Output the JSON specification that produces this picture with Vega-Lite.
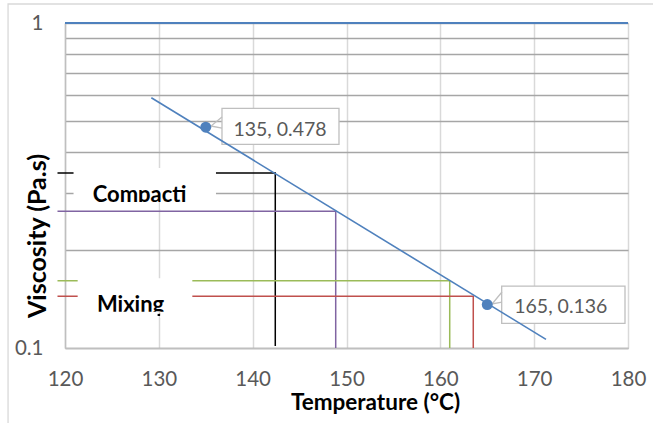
{
  "$schema": "https://vega.github.io/schema/vega-lite/v6.json",
  "width": 563,
  "height": 325,
  "autosize": {"type": "none"},
  "padding": {"left": 65, "top": 23, "right": 25, "bottom": 75},
  "background": "white",
  "config": {"view": {"stroke": null}, "font": "Lato"},
  "datasets": {
    "border": [{"x": 113.93, "x2": 195, "y": 1.144, "y2": 0.01}],
    "guides": [
      {"s": "black", "o": 1, "x": 119.2, "y": 0.3455},
      {"s": "black", "o": 2, "x": 142.41, "y": 0.3455},
      {"s": "black", "o": 3, "x": 142.41, "y": 0.1014},
      {"s": "purple", "o": 1, "x": 119.2, "y": 0.2634},
      {"s": "purple", "o": 2, "x": 148.85, "y": 0.2634},
      {"s": "purple", "o": 3, "x": 148.85, "y": 0.1},
      {"s": "green", "o": 1, "x": 119.2, "y": 0.1611},
      {"s": "green", "o": 2, "x": 161.0, "y": 0.1611},
      {"s": "green", "o": 3, "x": 161.0, "y": 0.1},
      {"s": "red", "o": 1, "x": 119.2, "y": 0.1443},
      {"s": "red", "o": 2, "x": 163.51, "y": 0.1443},
      {"s": "red", "o": 3, "x": 163.51, "y": 0.1}
    ],
    "toprule": [{"x": 120, "x2": 180, "y": 1}],
    "annoBoxes": [
      {"x": 120.91, "x2": 136.09, "y": 0.3579, "y2": 0.2813},
      {"x": 121.35, "x2": 133.57, "y": 0.1639, "y2": 0.1293}
    ],
    "annoText": [
      {"x": 122.95, "y": 0.2813, "t": "Compacti"},
      {"x": 123.4, "y": 0.1295, "t": "Mixing"}
    ],
    "covers": [
      {"x": 122.66, "x2": 129.87, "y": 0.2813, "y2": 0.2678},
      {"x": 130.14, "x2": 133.6, "y": 0.2813, "y2": 0.2678},
      {"x": 122.88, "x2": 129.87, "y": 0.1293, "y2": 0.1237},
      {"x": 130.14, "x2": 131.5, "y": 0.1293, "y2": 0.1237}
    ],
    "labelBoxes": [
      {"x": 136.73, "x2": 149.2, "y": 0.5465, "y2": 0.4232},
      {"x": 166.54, "x2": 179.68, "y": 0.1551, "y2": 0.1191}
    ],
    "pointers": [
      {"g": "a", "o": 1, "x": 136.73, "y": 0.5139},
      {"g": "a", "o": 2, "x": 135.56, "y": 0.482},
      {"g": "a", "o": 3, "x": 136.73, "y": 0.4752},
      {"g": "b", "o": 1, "x": 166.57, "y": 0.1487},
      {"g": "b", "o": 2, "x": 165.51, "y": 0.1366},
      {"g": "b", "o": 3, "x": 166.57, "y": 0.1385}
    ],
    "trend": [
      {"x": 129.2, "y": 0.589},
      {"x": 171.26, "y": 0.1063}
    ],
    "points": [
      {"x": 135, "y": 0.478},
      {"x": 165, "y": 0.136}
    ],
    "labels": [
      {"x": 142.91, "y": 0.449, "t": "135, 0.478"},
      {"x": 172.84, "y": 0.1279, "t": "165, 0.136"}
    ]
  },
  "encoding": {
    "x": {
      "field": "x",
      "type": "quantitative",
      "scale": {"domain": [120, 180], "nice": false, "zero": false},
      "axis": {
        "title": "Temperature (°C)",
        "values": [120, 130, 140, 150, 160, 170, 180],
        "grid": true,
        "gridColor": "#d9d9d9",
        "gridWidth": 1.5,
        "ticks": false,
        "tickSize": 0,
        "domainColor": "#bfbfbf",
        "domainWidth": 1.5,
        "labelFont": "Lato",
        "labelFontSize": 20.5,
        "labelColor": "#595959",
        "labelBaseline": "alphabetic",
        "labelPadding": 37.5,
        "labelFlush": false,
        "labelOverlap": false,
        "titleFont": "Lato",
        "titleFontSize": 22.5,
        "titleFontWeight": "bold",
        "titleColor": "#000000",
        "titleX": 310,
        "titleY": 61.5,
        "titleBaseline": "alphabetic",
        "titleAlign": "center"
      }
    },
    "y": {
      "field": "y",
      "type": "quantitative",
      "scale": {"type": "log", "domain": [0.1, 1], "nice": false},
      "axis": {
        "title": "Viscosity (Pa.s)",
        "values": [0.1, 0.2, 0.3, 0.4, 0.5, 0.6, 0.7, 0.8, 0.9, 1],
        "grid": true,
        "gridColor": "#a6a6a6",
        "gridWidth": 1.3,
        "ticks": false,
        "tickSize": 0,
        "domainColor": "#bfbfbf",
        "domainWidth": 1.5,
        "labelExpr": "datum.value > 0.95 || datum.value < 0.105 ? format(datum.value, '~g') : ''",
        "labelFont": "Lato",
        "labelFontSize": 20.5,
        "labelColor": "#595959",
        "labelPadding": 22,
        "labelBaseline": "middle",
        "labelFlush": false,
        "labelOverlap": false,
        "titleFont": "Lato",
        "titleFontSize": 25,
        "titleFontWeight": "bold",
        "titleColor": "#000000",
        "titleAngle": -90,
        "titleX": -20,
        "titleY": 212.5,
        "titleBaseline": "alphabetic",
        "titleAlign": "center"
      }
    }
  },
  "layer": [
    {
      "data": {"name": "border"},
      "mark": {"type": "rect", "fill": null, "fillOpacity": 0, "stroke": "#d9d9d9", "strokeWidth": 1.3},
      "encoding": {"x2": {"field": "x2"}, "y2": {"field": "y2"}}
    },
    {
      "data": {"name": "guides"},
      "mark": {"type": "line", "strokeWidth": 1.5},
      "encoding": {
        "color": {"field": "s", "type": "nominal", "scale": {"domain": ["black", "purple", "green", "red"], "range": ["#000000", "#8064a2", "#9bbb59", "#c0504d"]}, "legend": null},
        "order": {"field": "o", "type": "quantitative"}
      }
    },
    {
      "data": {"name": "toprule"},
      "mark": {"type": "rule", "color": "#4f81bd", "strokeWidth": 2},
      "encoding": {"x2": {"field": "x2"}}
    },
    {
      "data": {"name": "annoBoxes"},
      "mark": {"type": "rect", "fill": "white", "strokeWidth": 0},
      "encoding": {"x2": {"field": "x2"}, "y2": {"field": "y2"}}
    },
    {
      "data": {"name": "annoText"},
      "mark": {"type": "text", "align": "left", "baseline": "alphabetic", "font": "Lato", "fontSize": 22, "fontWeight": "bold", "color": "#000000"},
      "encoding": {"text": {"field": "t"}}
    },
    {
      "data": {"name": "covers"},
      "mark": {"type": "rect", "fill": "white", "strokeWidth": 0},
      "encoding": {"x2": {"field": "x2"}, "y2": {"field": "y2"}}
    },
    {
      "data": {"name": "labelBoxes"},
      "mark": {"type": "rect", "fill": "white", "stroke": "#bfbfbf", "strokeWidth": 1.3},
      "encoding": {"x2": {"field": "x2"}, "y2": {"field": "y2"}}
    },
    {
      "data": {"name": "pointers"},
      "mark": {"type": "line", "color": "#bfbfbf", "strokeWidth": 1.3},
      "encoding": {
        "detail": {"field": "g"},
        "order": {"field": "o", "type": "quantitative"}
      }
    },
    {
      "data": {"name": "trend"},
      "mark": {"type": "line", "color": "#4f81bd", "strokeWidth": 1.6},
      "encoding": {}
    },
    {
      "data": {"name": "points"},
      "mark": {"type": "point", "filled": true, "color": "#4f81bd", "size": 120, "opacity": 1},
      "encoding": {}
    },
    {
      "data": {"name": "labels"},
      "mark": {"type": "text", "align": "center", "baseline": "alphabetic", "font": "Lato", "fontSize": 19.5, "color": "#595959"},
      "encoding": {"text": {"field": "t"}}
    }
  ]
}
